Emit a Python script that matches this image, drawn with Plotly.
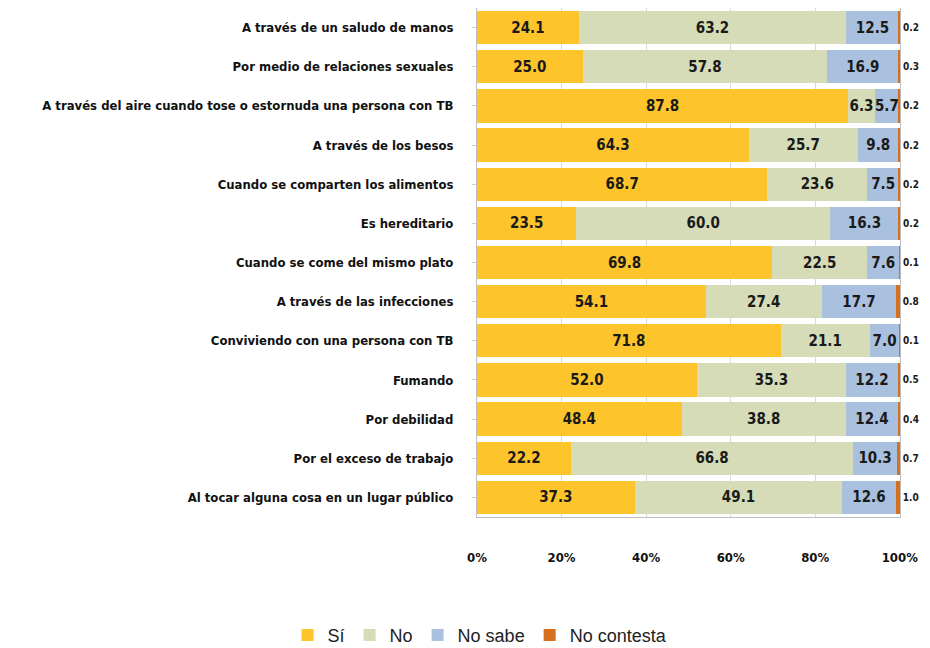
import plotly.graph_objects as go

categories = [
    "A través de un saludo de manos",
    "Por medio de relaciones sexuales",
    "A través del aire cuando tose o estornuda una persona con TB",
    "A través de los besos",
    "Cuando se comparten los alimentos",
    "Es hereditario",
    "Cuando se come del mismo plato",
    "A través de las infecciones",
    "Conviviendo con una persona con TB",
    "Fumando",
    "Por debilidad",
    "Por el exceso de trabajo",
    "Al tocar alguna cosa en un lugar público",
]
si = [24.1, 25.0, 87.8, 64.3, 68.7, 23.5, 69.8, 54.1, 71.8, 52.0, 48.4, 22.2, 37.3]
no = [63.2, 57.8, 6.3, 25.7, 23.6, 60.0, 22.5, 27.4, 21.1, 35.3, 38.8, 66.8, 49.1]
no_sabe = [12.5, 16.9, 5.7, 9.8, 7.5, 16.3, 7.6, 17.7, 7.0, 12.2, 12.4, 10.3, 12.6]
no_contesta = [0.2, 0.3, 0.2, 0.2, 0.2, 0.2, 0.1, 0.8, 0.1, 0.5, 0.4, 0.7, 1.0]
tick_labels = ["0%", "20%", "40%", "60%", "80%", "100%"]
tick_vals = [0, 20, 40, 60, 80, 100]

series = [
    ("Sí", si, "#FEC42C"),
    ("No", no, "#D5DCB7"),
    ("No sabe", no_sabe, "#A9C0DE"),
    ("No contesta", no_contesta, "#D4701E"),
]

cond_font = "DejaVu Sans Condensed, Liberation Sans Narrow, Arial Narrow, sans-serif"
legend_font = "Liberation Sans, Arial, sans-serif"

fig = go.Figure()
for i, (name, vals, color) in enumerate(series):
    last = i == len(series) - 1
    fig.add_trace(go.Bar(
        y=categories, x=vals, name=name, orientation="h",
        marker=dict(color=color, line=dict(width=0)),
        texttemplate="<b>%{x:.1f}</b>",
        textposition="outside" if last else "inside",
        insidetextanchor="middle",
        textangle=0,
        constraintext="none",
        textfont=dict(family=cond_font, size=10 if last else 15, color="#1a1a1a"),
        cliponaxis=False,
        hoverinfo="x+name",
    ))

fig.update_layout(
    width=922, height=640,
    barmode="stack",
    bargap=0.15,
    plot_bgcolor="white",
    paper_bgcolor="white",
    margin=dict(l=469, r=30, t=0, b=131),
    showlegend=True,
    legend=dict(
        orientation="h", xref="container", yref="container",
        x=0.512, xanchor="center", y=0.02, yanchor="middle",
        font=dict(family=legend_font, size=18, color="#222"),
        itemwidth=30, traceorder="normal",
    ),
)
fig.update_xaxes(
    range=[0, 100.05], tickvals=tick_vals,
    ticktext=["<b>%s</b>" % t for t in tick_labels],
    tickfont=dict(family=cond_font, size=13, color="#111"),
    showgrid=True, gridcolor="#D8D8D8", gridwidth=1,
    showline=True, linecolor="#BDBDBD", mirror=True,
    ticklabelstandoff=28, zeroline=False,
)
fig.update_yaxes(
    autorange="reversed",
    tickfont=dict(family=cond_font, size=13, color="#111"),
    showline=True, linecolor="#BDBDBD", mirror=True,
    ticks="outside", ticklen=4, tickcolor="#CFCFCF",
    ticklabelstandoff=16,
    tickvals=categories,
    ticktext=["<b>%s</b>" % c for c in categories],
)

fig.write_html("out.html")
